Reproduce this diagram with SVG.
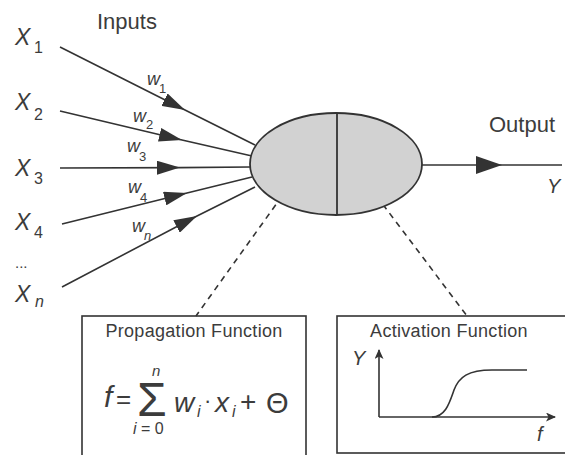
<svg xmlns="http://www.w3.org/2000/svg" width="565" height="455" viewBox="0 0 565 455">
<defs>
<style>
.t{font-family:"Liberation Sans",Arial,sans-serif;fill:#3c3c3c}
.i{font-style:italic}
.ln{stroke:#333;stroke-width:1.6;fill:none}
.ds{stroke:#333;stroke-width:1.6;fill:none;stroke-dasharray:6 5}
.box{fill:none;stroke:#333;stroke-width:1.6}
</style>
<marker id="arr" viewBox="0 0 23 14" refX="23" refY="7" markerWidth="23" markerHeight="14" markerUnits="userSpaceOnUse" orient="auto">
<path d="M0,0 L23,7 L0,14 Z" fill="#333"/>
</marker>
<marker id="arrO" viewBox="0 0 26 18" refX="26" refY="9" markerWidth="26" markerHeight="18" markerUnits="userSpaceOnUse" orient="auto">
<path d="M0,0 L26,9 L0,18 Z" fill="#333"/>
</marker>
<marker id="arrS" viewBox="0 0 10 9" refX="9" refY="4.5" markerWidth="10" markerHeight="9" markerUnits="userSpaceOnUse" orient="auto">
<path d="M0,0 L10,4.5 L0,9 L2.5,4.5 Z" fill="#333"/>
</marker>
</defs>
<rect width="565" height="455" fill="#fff"/>

<g id="connectors">
<polyline class="ln" points="60,47 185,110 255,145" marker-mid="url(#arr)"/>
<polyline class="ln" points="60,111 182,140 252,156" marker-mid="url(#arr)"/>
<polyline class="ln" points="60,168 180,167.6 250,167" marker-mid="url(#arr)"/>
<polyline class="ln" points="62,224 187,193 252,177" marker-mid="url(#arr)"/>
<polyline class="ln" points="62,287 197,216 255,187" marker-mid="url(#arr)"/>
<polyline class="ln" points="422,165 502,165 562,165" marker-mid="url(#arrO)"/>
<line class="ds" x1="295" y1="178" x2="196" y2="316"/>
<line class="ds" x1="363" y1="178" x2="467" y2="316"/>
</g>

<g id="inputs-title"><text class="t" x="97" y="29" font-size="22">Inputs</text></g>

<g id="x1"><text class="t i" x="15" y="45" font-size="23">X</text><text class="t" x="34" y="53" font-size="16">1</text></g>
<g id="x2"><text class="t i" x="15" y="110" font-size="23">X</text><text class="t" x="34" y="120" font-size="16">2</text></g>
<g id="x3"><text class="t i" x="15" y="176" font-size="23">X</text><text class="t" x="34" y="184" font-size="16">3</text></g>
<g id="x4"><text class="t i" x="15" y="230" font-size="23">X</text><text class="t" x="34" y="238" font-size="16">4</text></g>
<g id="xdots"><text class="t" x="15" y="268" font-size="15">...</text></g>
<g id="xn"><text class="t i" x="15" y="302" font-size="23">X</text><text class="t i" x="35" y="307" font-size="16">n</text></g>

<g id="w1"><text class="t i" x="147" y="85" font-size="18">w</text><text class="t" x="159" y="93" font-size="13">1</text></g>
<g id="w2"><text class="t i" x="133" y="122" font-size="18">w</text><text class="t" x="146" y="129" font-size="13">2</text></g>
<g id="w3"><text class="t i" x="127" y="152" font-size="18">w</text><text class="t" x="139" y="161" font-size="13">3</text></g>
<g id="w4"><text class="t i" x="128" y="193" font-size="18">w</text><text class="t" x="140" y="202" font-size="13">4</text></g>
<g id="wn"><text class="t i" x="132" y="232" font-size="18">w</text><text class="t i" x="144" y="240" font-size="13">n</text></g>

<g id="neuron">
<ellipse cx="336" cy="164" rx="86" ry="51" fill="#d2d2d2" stroke="#333" stroke-width="1.8"/>
<line x1="337" y1="113" x2="337" y2="215" stroke="#333" stroke-width="1.8"/>
</g>

<g id="output">
<text class="t" x="489" y="132" font-size="22">Output</text>
<text class="t i" x="547" y="193" font-size="20">Y</text>
</g>

<g id="propagation">
<rect class="box" x="82" y="316" width="224" height="145"/>
<text class="t" x="194" y="337" font-size="18" text-anchor="middle" letter-spacing="0.3">Propagation Function</text>
<text class="t i" x="104" y="407" font-size="30">f</text>
<text class="t" x="116" y="408" font-size="26">=</text>
<text class="t" x="137" y="416" font-size="48">Σ</text>
<text class="t i" x="152" y="376" font-size="15">n</text>
<text class="t" x="133" y="434" font-size="16"><tspan font-style="italic">i</tspan> = 0</text>
<text class="t i" x="174" y="412" font-size="28">w</text>
<text class="t i" x="197" y="417" font-size="16">i</text>
<text class="t" x="204" y="408" font-size="22">·</text>
<text class="t i" x="215" y="412" font-size="28">x</text>
<text class="t i" x="232" y="417" font-size="16">i</text>
<text class="t" x="240" y="411" font-size="28">+</text>
<text class="t" x="266" y="413" font-size="29">Θ</text>
</g>

<g id="activation">
<rect class="box" x="337" y="316" width="240" height="137"/>
<text class="t" x="449" y="337" font-size="18" text-anchor="middle" letter-spacing="0.3">Activation Function</text>
<line class="ln" x1="379" y1="417" x2="379" y2="350" marker-end="url(#arrS)"/>
<line class="ln" x1="379" y1="417" x2="555" y2="417" marker-end="url(#arrS)"/>
<path class="ln" d="M432,417 C446,417 450,401 454,390 C459,377 468,370 492,370 L527,370"/>
<text class="t i" x="352" y="365" font-size="20">Y</text>
<text class="t i" x="537" y="441" font-size="20">f</text>
</g>
</svg>
